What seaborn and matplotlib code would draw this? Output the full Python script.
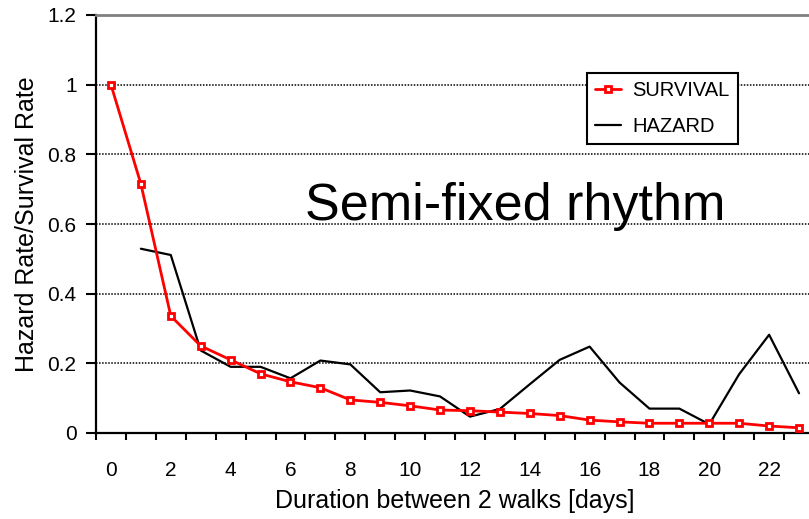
import matplotlib
matplotlib.use("Agg")
import matplotlib.pyplot as plt
import seaborn as sns

# Survival and hazard rates per gap (in days) between two walks
days = list(range(24))
survival = [1.0, 0.715, 0.336, 0.25, 0.21, 0.17, 0.147, 0.13, 0.095, 0.088,
            0.078, 0.066, 0.064, 0.06, 0.056, 0.05, 0.037, 0.032, 0.028,
            0.028, 0.028, 0.028, 0.02, 0.015]
hazard_days = list(range(1, 24))
hazard = [0.529, 0.511, 0.237, 0.19, 0.19, 0.157, 0.208, 0.197, 0.117, 0.122,
          0.105, 0.047, 0.069, 0.14, 0.21, 0.248, 0.145, 0.07, 0.07, 0.025,
          0.169, 0.282, 0.114]
y_ticks = [0, 0.2, 0.4, 0.6, 0.8, 1.0, 1.2]
y_tick_labels = ["0", "0.2", "0.4", "0.6", "0.8", "1", "1.2"]
x_tick_pos = list(range(0, 24, 2))
x_tick_labels = [str(d) for d in x_tick_pos]

sns.set_theme(style="white")
plt.rcParams["font.family"] = ["Liberation Sans", "DejaVu Sans"]
plt.rcParams["text.color"] = "black"
plt.rcParams["axes.labelcolor"] = "black"
plt.rcParams["xtick.color"] = "black"
plt.rcParams["ytick.color"] = "black"

W, H = 809, 519
fig = plt.figure(figsize=(W / 100, H / 100), dpi=100)
ax = fig.add_axes([96 / W, (H - 433) / H, 718 / W, (433 - 15) / H])

sns.lineplot(x=days, y=survival, ax=ax, color="#ff0000", linewidth=2,
             marker="s", markersize=5, markerfacecolor="white",
             markeredgecolor="#ff0000", markeredgewidth=2,
             label="SURVIVAL", zorder=4)
sns.lineplot(x=hazard_days, y=hazard, ax=ax, color="black", linewidth=1.6,
             label="HAZARD", zorder=3)

ax.set_xlim(-0.5, 23.5)
ax.set_ylim(0, 1.2)

# value grid
ax.set_yticks(y_ticks)
ax.set_yticklabels(y_tick_labels, fontsize=15)
ax.yaxis.grid(True, color="black", linestyle=(0, (1, 1)), linewidth=1.1)
ax.set_axisbelow(True)

# category labels sit at bin centres, tick marks at bin edges
ax.set_xticks(x_tick_pos)
ax.set_xticklabels(x_tick_labels, fontsize=15)
ax.set_xticks([i - 0.5 for i in range(25)], minor=True)

for side in ("left", "bottom"):
    ax.spines[side].set_color("black")
    ax.spines[side].set_linewidth(1.6)
ax.spines["right"].set_visible(False)
ax.spines["top"].set_color("#808080")
ax.spines["top"].set_linewidth(2)

ax.set_xlabel("Duration between 2 walks [days]", fontsize=18)
ax.set_ylabel("Hazard Rate/Survival Rate", fontsize=18)
ax.xaxis.set_label_coords(0.5, -0.133)
ax.yaxis.set_label_coords(-0.079, 0.5)

leg = ax.legend(loc="upper left", bbox_to_anchor=(587 / W, 1 - 73 / H),
                bbox_transform=fig.transFigure, borderaxespad=0,
                frameon=True, fancybox=False, framealpha=1,
                edgecolor="black", fontsize=14.5, handlelength=1.3,
                handletextpad=0.55, labelspacing=0.85, borderpad=0.4)
leg.get_frame().set_linewidth(1.5)

fig.text(305 / W, 1 - 220 / H, "Semi-fixed rhythm", fontsize=37.5,
         ha="left", va="baseline")

# tick styling
ax.xaxis.set_tick_params(which="major", length=0, width=0, pad=20,
                         bottom=True, labelbottom=True)
ax.xaxis.set_tick_params(which="minor", direction="out", length=5, width=1.5,
                         bottom=True)
ax.yaxis.set_tick_params(which="major", direction="out", length=7, width=1.5,
                         pad=7, left=True)

fig.savefig("out.png", dpi=100)
